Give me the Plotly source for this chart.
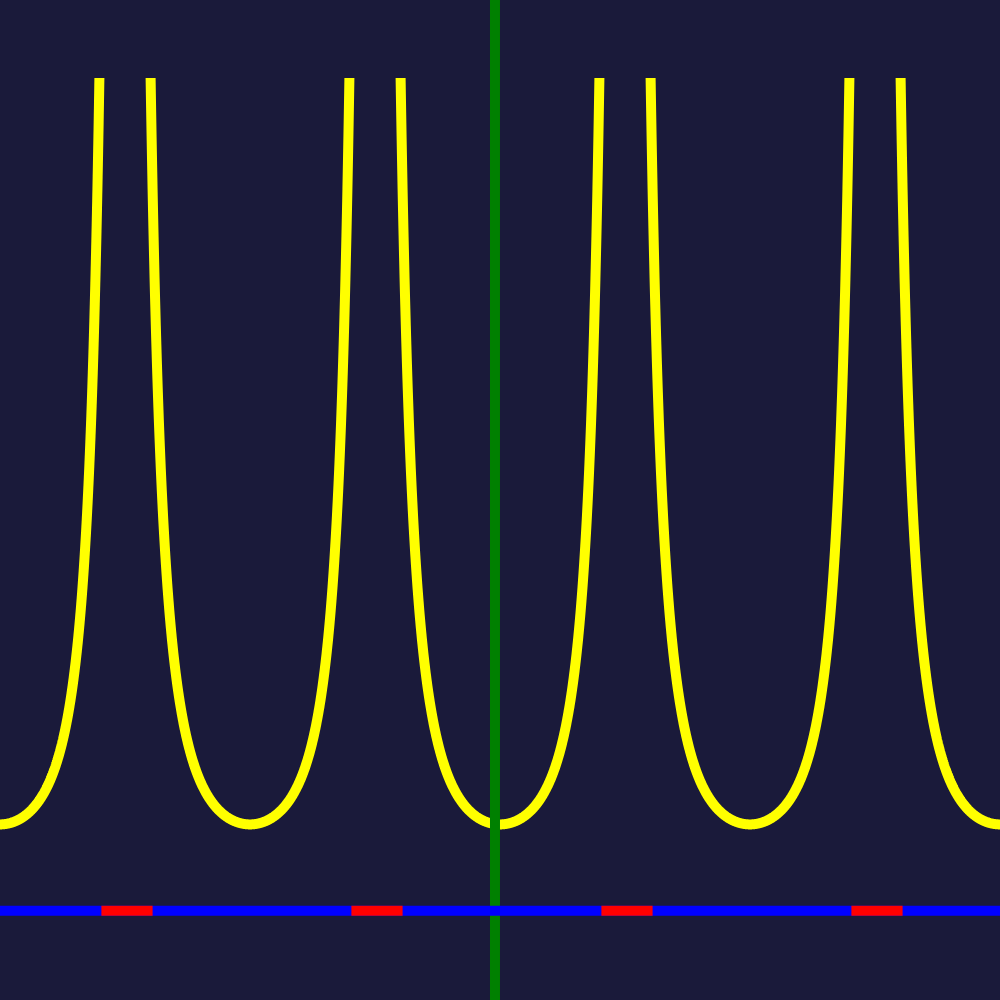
import numpy as np
import plotly.graph_objects as go

# ---- chart parameters / data ----
X_MIN, X_MAX = -2 * np.pi, 2 * np.pi          # visible x domain
Y_CAP = 10.0                                   # curve clipped where sec^2(x) > Y_CAP
BRANCH_CENTERS = [-2, -1, 0, 1, 2]             # multiples of pi where sec^2 has minima
Y_AXIS_X = -0.063                              # green vertical line position
X_AXIS_Y = -0.04                               # blue horizontal line position
Y_RANGE = [-1.117, 10.940]
RED_SHIFT = 0.025                              # small offset of excluded marks

BG = "#1a1a3a"
CURVE_COLOR = "#ffff00"
YAXIS_COLOR = "#008000"
XAXIS_COLOR = "#0000ff"
EXCLUDED_COLOR = "#ff0000"

# half-width of each branch where sec^2(x) <= Y_CAP
half_w = np.arccos(np.sqrt(1.0 / Y_CAP))

# curve: y = sec^2(x) = 1 / cos^2(x)
cx, cy = [], []
for k in BRANCH_CENTERS:
    a = max(k * np.pi - half_w, X_MIN)
    b = min(k * np.pi + half_w, X_MAX)
    xs = np.linspace(a, b, 800)
    ys = 1.0 / np.cos(xs) ** 2
    cx += list(xs) + [None]
    cy += list(ys) + [None]

# excluded intervals (around asymptotes) shown in red on the x-axis
rx, ry = [], []
for k in BRANCH_CENTERS[:-1]:
    asym = k * np.pi + np.pi / 2 + RED_SHIFT
    pad = np.pi / 2 - half_w
    rx += [asym - pad, asym + pad, None]
    ry += [X_AXIS_Y, X_AXIS_Y, None]

fig = go.Figure()
fig.add_trace(go.Scatter(x=cx, y=cy, mode="lines",
                         line=dict(color=CURVE_COLOR, width=10, simplify=False),
                         hoverinfo="skip"))
fig.add_trace(go.Scatter(x=[Y_AXIS_X, Y_AXIS_X], y=Y_RANGE, mode="lines",
                         line=dict(color=YAXIS_COLOR, width=10), hoverinfo="skip"))
fig.add_trace(go.Scatter(x=[X_MIN, X_MAX], y=[X_AXIS_Y, X_AXIS_Y], mode="lines",
                         line=dict(color=XAXIS_COLOR, width=10), hoverinfo="skip"))
fig.add_trace(go.Scatter(x=rx, y=ry, mode="lines",
                         line=dict(color=EXCLUDED_COLOR, width=10), hoverinfo="skip"))

fig.update_layout(
    width=1000, height=1000,
    margin=dict(l=0, r=0, t=0, b=0, pad=0),
    paper_bgcolor=BG, plot_bgcolor=BG,
    showlegend=False,
    xaxis=dict(range=[X_MIN, X_MAX], visible=False, showgrid=False, zeroline=False),
    yaxis=dict(range=Y_RANGE, visible=False, showgrid=False, zeroline=False),
)
fig.write_html("out.html")
